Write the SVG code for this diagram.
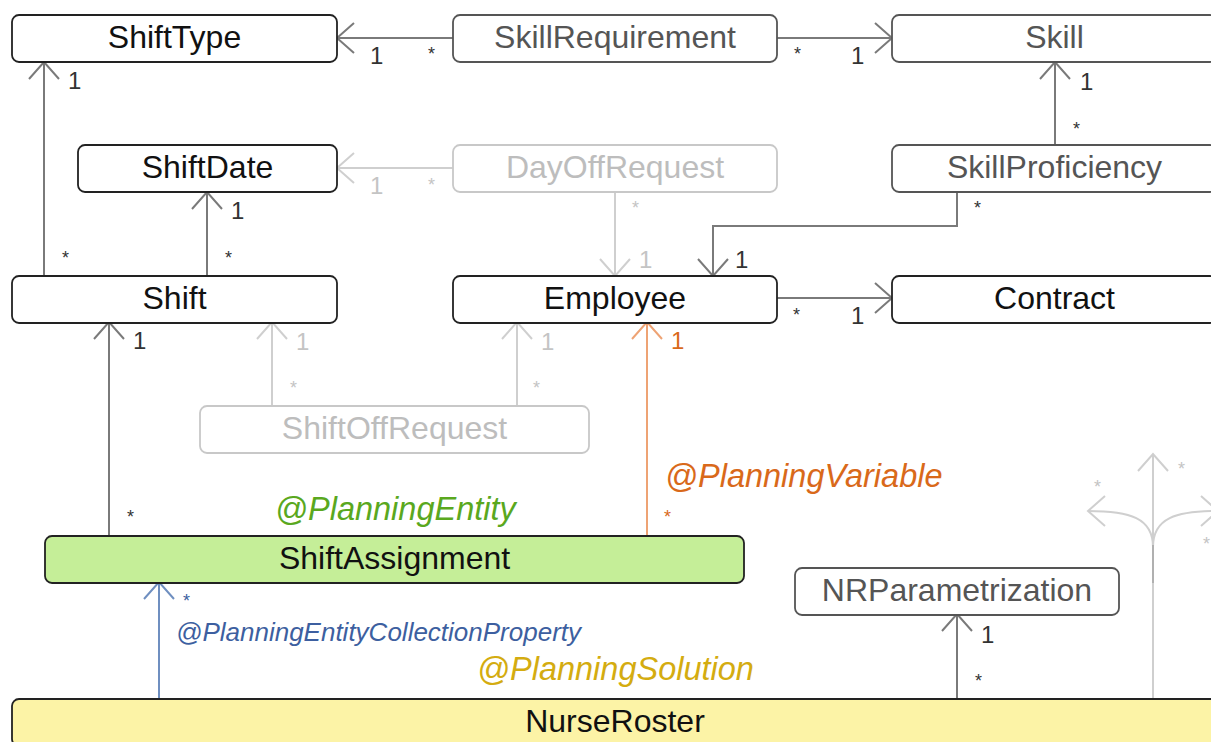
<svg xmlns="http://www.w3.org/2000/svg" width="1211" height="742" viewBox="0 0 1211 742">
<defs>
<style>
.node rect{stroke-width:1.8}
.dark rect{fill:#fff;stroke:#222}
.dark text{fill:#111}
.mid rect{fill:#fff;stroke:#555}
.mid text{fill:#555}
.light rect{fill:#fff;stroke:#c8c8c8}
.light text{fill:#bdbdbd}
.name{font-family:"Liberation Sans",Arial,sans-serif;font-size:32px;text-anchor:middle}
.c{fill:none;stroke-width:2}
.cg{stroke:#7a7a7a}
.cl{stroke:#cfcfcf}
.co{stroke:#eea374}
.cb{stroke:#6f8fc0}
.m{font-family:"Liberation Sans",Arial,sans-serif;font-size:24px}
.s{font-family:"Liberation Sans",Arial,sans-serif;font-size:18px}
.tg{fill:#333}
.tl{fill:#c4c4c4}
.ann{font-family:"Liberation Sans",Arial,sans-serif;font-style:italic;font-size:32.5px}
</style>
<marker id="ag" viewBox="-20 -18 22 36" markerWidth="22" markerHeight="36" refX="0" refY="0" orient="auto" markerUnits="userSpaceOnUse"><path d="M-17,-15 L0,0 L-17,15" fill="none" stroke="#7a7a7a" stroke-width="2"/></marker>
<marker id="al" viewBox="-20 -18 22 36" markerWidth="22" markerHeight="36" refX="0" refY="0" orient="auto" markerUnits="userSpaceOnUse"><path d="M-17,-15 L0,0 L-17,15" fill="none" stroke="#cfcfcf" stroke-width="2"/></marker>
<marker id="ao" viewBox="-20 -18 22 36" markerWidth="22" markerHeight="36" refX="0" refY="0" orient="auto" markerUnits="userSpaceOnUse"><path d="M-17,-15 L0,0 L-17,15" fill="none" stroke="#eea374" stroke-width="2"/></marker>
<marker id="ab" viewBox="-20 -18 22 36" markerWidth="22" markerHeight="36" refX="0" refY="0" orient="auto" markerUnits="userSpaceOnUse"><path d="M-17,-15 L0,0 L-17,15" fill="none" stroke="#6f8fc0" stroke-width="2"/></marker>
</defs>
<rect width="1211" height="742" fill="#fff"/>

<g id="connectors">
<path class="c cg" d="M453,38 H337" marker-end="url(#ag)"/>
<path class="c cg" d="M777,38 H892" marker-end="url(#ag)"/>
<path class="c cg" d="M44,276 V62" marker-end="url(#ag)"/>
<path class="c cg" d="M207,276 V192" marker-end="url(#ag)"/>
<path class="c cl" d="M453,168 H337" marker-end="url(#al)"/>
<path class="c cl" d="M615,192 V276" marker-end="url(#al)"/>
<path class="c cg" d="M1055,145 V62" marker-end="url(#ag)"/>
<path class="c cg" d="M957,192 V226 H713 V276" marker-end="url(#ag)"/>
<path class="c cg" d="M777,298 H892" marker-end="url(#ag)"/>
<path class="c cg" d="M109,536 V322" marker-end="url(#ag)"/>
<path class="c cl" d="M272,406 V322" marker-end="url(#al)"/>
<path class="c cl" d="M517,406 V322" marker-end="url(#al)"/>
<path class="c co" d="M647,536 V322" marker-end="url(#ao)"/>
<path class="c cb" d="M159,699 V582" marker-end="url(#ab)"/>
<path class="c cg" d="M957,699 V614" marker-end="url(#ag)"/>
<path class="c cl" d="M1153,699 V454" marker-end="url(#al)"/>
<path class="c cl" d="M1153,583 V547 C1153,518 1130,511 1088,511" marker-end="url(#al)"/>
<path class="c cl" d="M1153,583 V547 C1153,518 1176,511 1218,511" marker-end="url(#al)"/>
<path class="c" stroke="#b0b0b0" d="M1153,583 V545"/>

<text class="m tg" x="370" y="64">1</text><text class="s tg" x="428" y="60">*</text>
<text class="s tg" x="794" y="60">*</text><text class="m tg" x="851" y="64">1</text>
<text class="m tg" x="68" y="89">1</text><text class="s tg" x="62" y="264">*</text>
<text class="m tg" x="231" y="219">1</text><text class="s tg" x="225" y="264">*</text>
<text class="m tl" x="370" y="194">1</text><text class="s tl" x="428" y="191">*</text>
<text class="s tl" x="632" y="214">*</text><text class="m tl" x="639" y="268">1</text>
<text class="m tg" x="1080" y="90">1</text><text class="s tg" x="1073" y="135">*</text>
<text class="s tg" x="974" y="214">*</text><text class="m tg" x="735" y="268">1</text>
<text class="s tg" x="793" y="321">*</text><text class="m tg" x="851" y="324">1</text>
<text class="m tg" x="133" y="349">1</text><text class="s tg" x="127" y="523">*</text>
<text class="m tl" x="296" y="350">1</text><text class="s tl" x="290" y="394">*</text>
<text class="m tl" x="541" y="350">1</text><text class="s tl" x="533" y="394">*</text>
<text class="m" fill="#d9691a" x="671" y="349">1</text><text class="s" fill="#d9691a" x="664" y="523">*</text>
<text class="s" fill="#3d5fa0" x="183" y="607">*</text>
<text class="m tg" x="981" y="643">1</text><text class="s tg" x="975" y="687">*</text>
<text class="s tl" x="1094" y="493">*</text>
<text class="s tl" x="1178" y="475">*</text>
<text class="s tl" x="1203" y="550">*</text>
</g>

<g id="ShiftType" class="node dark"><rect x="12" y="15" width="325" height="47" rx="7"/><text class="name" x="174.5" y="48">ShiftType</text></g>
<g id="SkillRequirement" class="node mid"><rect x="453" y="15" width="324" height="47" rx="7"/><text class="name" x="615" y="48">SkillRequirement</text></g>
<g id="Skill" class="node mid"><rect x="892" y="15" width="325" height="47" rx="7"/><text class="name" x="1054.5" y="48">Skill</text></g>
<g id="ShiftDate" class="node dark"><rect x="78" y="145" width="259" height="47" rx="7"/><text class="name" x="207.5" y="178">ShiftDate</text></g>
<g id="DayOffRequest" class="node light"><rect x="453" y="145" width="324" height="47" rx="7"/><text class="name" x="615" y="178">DayOffRequest</text></g>
<g id="SkillProficiency" class="node mid"><rect x="892" y="145" width="325" height="47" rx="7"/><text class="name" x="1054.5" y="178">SkillProficiency</text></g>
<g id="Shift" class="node dark"><rect x="12" y="276" width="325" height="47" rx="7"/><text class="name" x="174.5" y="309">Shift</text></g>
<g id="Employee" class="node dark"><rect x="453" y="276" width="324" height="47" rx="7"/><text class="name" x="615" y="309">Employee</text></g>
<g id="Contract" class="node dark"><rect x="892" y="276" width="325" height="47" rx="7"/><text class="name" x="1054.5" y="309">Contract</text></g>
<g id="ShiftOffRequest" class="node light"><rect x="200" y="406" width="389" height="47" rx="7"/><text class="name" x="394.5" y="439">ShiftOffRequest</text></g>
<g id="ShiftAssignment" class="node"><rect x="45" y="536" width="699" height="47" rx="7" fill="#c5ee98" stroke="#222"/><text class="name" fill="#111" x="394.5" y="569">ShiftAssignment</text></g>
<g id="NRParametrization" class="node mid"><rect x="795" y="568" width="324" height="47" rx="7"/><text class="name" x="957" y="601">NRParametrization</text></g>
<g id="NurseRoster" class="node"><rect x="12" y="699" width="1206" height="47" rx="7" fill="#fcf3a6" stroke="#222"/><text class="name" fill="#111" x="615" y="732">NurseRoster</text></g>

<g id="annotations">
<text class="ann" fill="#5aa81e" x="275" y="520">@PlanningEntity</text>
<text class="ann" fill="#d9691a" x="665" y="487">@PlanningVariable</text>
<text class="ann" fill="#3d5fa0" x="176" y="641" style="font-size:26px">@PlanningEntityCollectionProperty</text>
<text class="ann" fill="#d4ac10" x="477" y="680">@PlanningSolution</text>
</g>
</svg>
